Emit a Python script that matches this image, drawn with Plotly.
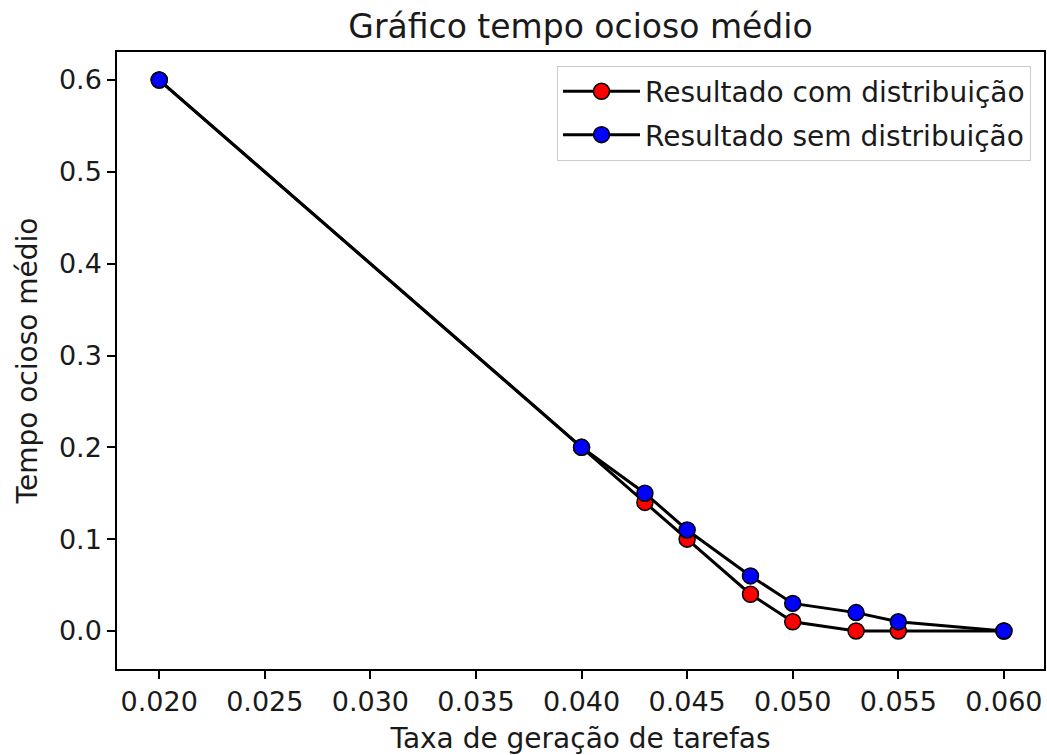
import plotly.graph_objects as go

taxa = [0.020, 0.040, 0.043, 0.045, 0.048, 0.050, 0.053, 0.055, 0.060]
com_distribuicao = [0.60, 0.20, 0.14, 0.10, 0.04, 0.01, 0.00, 0.00, 0.00]
sem_distribuicao = [0.60, 0.20, 0.15, 0.11, 0.06, 0.03, 0.02, 0.01, 0.00]

FONT = "DejaVu Sans"
TXT = "#1a1a1a"

fig = go.Figure()
fig.add_trace(go.Scatter(
    x=taxa, y=com_distribuicao, mode="lines+markers",
    name="Resultado com distribuição", legendgroup="a",
    line=dict(color="black", width=3),
    marker=dict(color="red", size=16, line=dict(color="black", width=1.5)),
))
fig.add_trace(go.Scatter(
    x=taxa, y=sem_distribuicao, mode="lines+markers",
    name="Resultado sem distribuição", legendgroup="b",
    line=dict(color="black", width=3),
    marker=dict(color="blue", size=16, line=dict(color="black", width=1.5)),
))

axis_common = dict(
    showline=True, mirror=True, linecolor="black", linewidth=1.5,
    ticks="outside", ticklen=8, tickwidth=1.5, tickcolor="black",
    showgrid=False, zeroline=False,
    tickfont=dict(family=FONT, size=27, color=TXT),
)

fig.update_layout(
    width=1047, height=755,
    margin=dict(l=117, r=1, t=52, b=86),
    paper_bgcolor="white", plot_bgcolor="white",
    font=dict(family=FONT, size=27, color=TXT),
    title=dict(text="Gráfico tempo ocioso médio", x=0.5, xref="paper",
               y=1 - 26 / 755, yanchor="middle",
               font=dict(family=FONT, size=33, color=TXT)),
    xaxis=dict(range=[0.0180, 0.0619], tick0=0.02, dtick=0.005, tickformat=".3f",
               title=dict(text="Taxa de geração de tarefas", standoff=13,
                          font=dict(family=FONT, size=28, color=TXT)),
               **axis_common),
    yaxis=dict(range=[-0.0414, 0.6305], tick0=0, dtick=0.1, tickformat=".1f",
               title=dict(text="Tempo ocioso médio", standoff=13,
                          font=dict(family=FONT, size=28, color=TXT)),
               **axis_common),
    legend=dict(x=0.986, y=0.978, xanchor="right", yanchor="top",
                bgcolor="rgba(255,255,255,0.8)", bordercolor="#cccccc", borderwidth=1,
                font=dict(family=FONT, size=28, color=TXT),
                traceorder="grouped", tracegroupgap=4, itemwidth=77),
    showlegend=True,
)

fig.write_html("out.html")
